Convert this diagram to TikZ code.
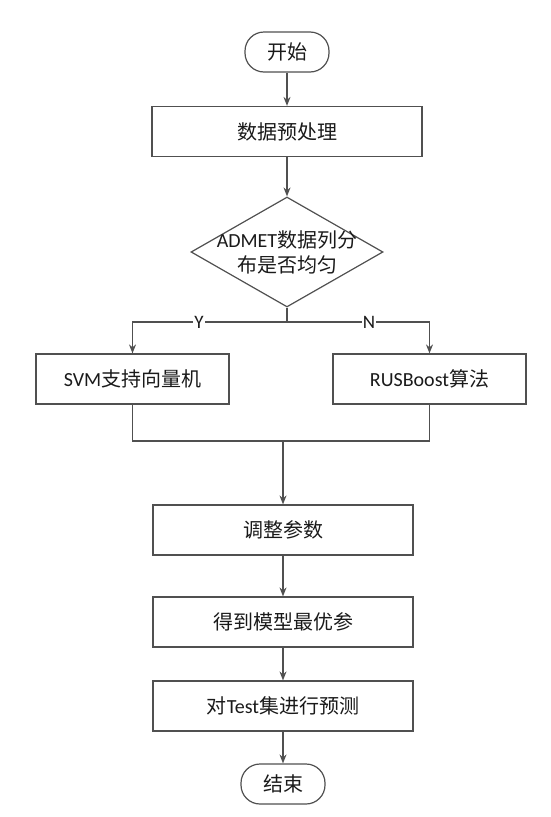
\documentclass[tikz,border=0pt]{standalone}
\usepackage{fontspec}
\setmainfont{Carlito}
\newfontfamily\cjk{Noto Sans CJK SC}
\usetikzlibrary{arrows.meta,shapes.geometric}
\definecolor{linec}{HTML}{505050}
\definecolor{textc}{HTML}{1A1A1A}
\tikzset{
  procbox/.style={draw=linec, line width=1.2pt, fill=white, rectangle, inner sep=0pt,
    minimum width=#1, minimum height=50pt, text=textc, font=\fontsize{20pt}{24pt}\selectfont},
  procbox/.default=260pt,
  termbox/.style={draw=linec, line width=1.2pt, fill=white, rectangle, rounded corners=19pt,
    inner sep=0pt, minimum width=84pt, minimum height=40pt, text=textc, font=\fontsize{20pt}{24pt}\selectfont},
  decbox/.style={draw=linec, line width=1.2pt, fill=white, diamond, minimum width=192pt, minimum height=110pt},
  conn/.style={draw=linec, line width=1.2pt},
  arr/.style={conn, -{Stealth[length=9pt,width=7pt]}},
  lbl/.style={fill=white, inner sep=1pt, text=textc, font=\fontsize{19pt}{21pt}\selectfont},
}
\begin{document}
\begin{tikzpicture}[x=1pt,y=-1pt]
\useasboundingbox (0,0) rectangle (551,817);
\node[termbox] (start) at (287,52) {\cjk 开始};
\node[procbox=270pt] (pre) at (287,131.5) {\cjk 数据预处理};
\node[decbox] (dec) at (287,252) {};
\node[text=textc, align=center, font=\fontsize{20pt}{25pt}\selectfont] (dectext) at (287,252) {ADMET{\cjk 数据列分}\\{\cjk 布是否均匀}};
\node[procbox=193pt] (svm) at (132.5,379) {SVM{\cjk 支持向量机}};
\node[procbox=193pt] (rus) at (429.5,379) {RUSBoost{\cjk 算法}};
\node[procbox=260pt] (adj) at (283,530) {\cjk 调整参数};
\node[procbox=260pt] (opt) at (283,622) {\cjk 得到模型最优参};
\node[procbox=260pt] (pred) at (283,706) {{\cjk 对}Test{\cjk 集进行预测}};
\node[termbox] (stop) at (283,784) {\cjk 结束};

\coordinate (split) at (287,322);
\coordinate (merge) at (283,441);

\draw[arr] (start) -- (pre);
\draw[arr] (pre) -- (dec);
\draw[conn] (dec.south) -- (split);
\draw[arr] (split) -- (svm.north |- split) -- (svm.north);
\draw[arr] (split) -- (rus.north |- split) -- (rus.north);
\draw[conn] (svm.south) -- (svm.south |- merge) -- (rus.south |- merge) -- (rus.south);
\draw[arr] (merge) -- (adj.north);
\draw[arr] (adj) -- (opt);
\draw[arr] (opt) -- (pred);
\draw[arr] (pred) -- (stop);
\node[lbl] (ylbl) at (199,322) {Y};
\node[lbl] (nlbl) at (369,322) {N};
\end{tikzpicture}
\end{document}
